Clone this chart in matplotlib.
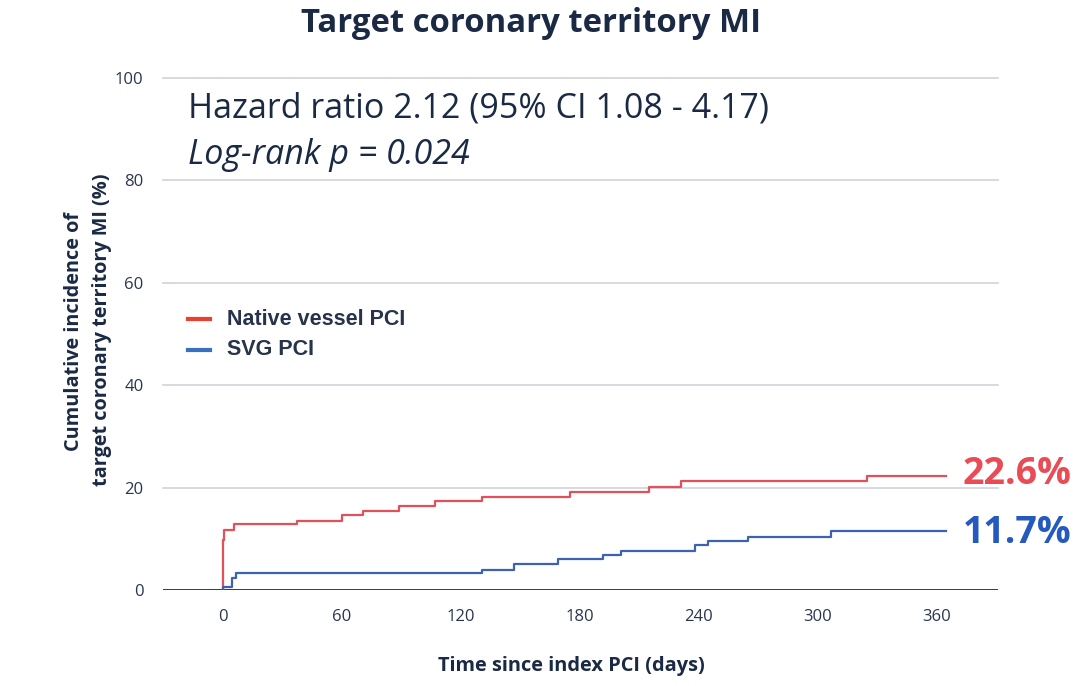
import matplotlib.pyplot as plt

# step data (days, cumulative %)
native_days = [0, 0, 1, 6, 37.5, 60, 71, 89, 107, 131, 175, 215, 231, 325, 365]
native_pct = [0, 9.8, 11.7, 12.8, 13.5, 14.6, 15.4, 16.5, 17.4, 18.2, 19.2, 20.2, 21.3, 22.2, 22.2]
svg_days = [0, 0, 5, 7, 131, 147, 169, 192, 201, 238, 245, 265, 307, 365]
svg_pct = [0, 0.6, 2.3, 3.3, 3.9, 5.1, 6.0, 6.9, 7.7, 8.7, 9.6, 10.4, 11.5, 11.5]
x_ticks = [0, 60, 120, 180, 240, 300, 360]
y_ticks = [0, 20, 40, 60, 80, 100]
end_labels = ['22.6%', '11.7%']

navy = '#1B2A44'
red = '#E2505C'
blue = '#3C62B0'

plt.rcParams['font.family'] = ['Open Sans', 'DejaVu Sans']

fig = plt.figure(figsize=(10.8, 6.86), dpi=100)
ax = fig.add_axes([163/1080, 1-590/686, (998-163)/1080, (590-78)/686])
ax.set_xlim(-30, 391)
ax.set_ylim(0, 100)

for y in y_ticks[1:]:
    ax.axhline(y, color='#D2D2DC', lw=1.2, zorder=0, clip_on=False)
ax.axhline(0, color=navy, lw=2, zorder=3)

ax.step(native_days, native_pct, where='post', color=red, lw=1.6, zorder=4)
ax.step(svg_days, svg_pct, where='post', color=blue, lw=1.6, zorder=4)

for s in ax.spines.values():
    s.set_visible(False)
ax.set_xticks(x_ticks)
ax.set_yticks(y_ticks)
ax.tick_params(length=0, labelsize=12, labelcolor='#2A3550', pad=14)

# right-side final values, a bit left of the axes edge
lab_x = 1.0 + (963 - 998) / 835
ax.text(lab_x, native_pct[-1] + 0.5, end_labels[0], transform=ax.get_yaxis_transform(),
        color='#E84C55', fontsize=27, fontweight='bold', va='center', ha='left', clip_on=False)
ax.text(lab_x, svg_pct[-1] - 0.3, end_labels[1], transform=ax.get_yaxis_transform(),
        color='#2559C0', fontsize=27, fontweight='bold', va='center', ha='left', clip_on=False)

ax.text(-17.5, 97.3, 'Hazard ratio 2.12 (95% CI 1.08 - 4.17)', fontsize=24.5, color=navy, va='top')
ax.text(-17.5, 88.3, 'Log-rank p = 0.024', fontsize=24.5, color=navy, va='top', style='italic')

# legend drawn as lines + text
ax.plot([-17.5, -6.5], [52.9, 52.9], color='#E8412F', lw=3)
ax.plot([-17.5, -6.5], [46.9, 46.9], color='#3A70C0', lw=3)
ax.text(2.5, 52.9, 'Native vessel PCI', family='Liberation Sans', fontweight='bold', fontsize=15.5, color='#26334A', va='center')
ax.text(2.5, 46.9, 'SVG PCI', family='Liberation Sans', fontweight='bold', fontsize=15.5, color='#26334A', va='center')

fig.text(531/1080, 1-24/686, 'Target coronary territory MI', fontsize=23.7, fontweight='bold',
         color=navy, ha='center', va='center')
fig.text(74/1080, 1-331/686, 'Cumulative incidence of', fontsize=14.3, fontweight='bold',
         color=navy, rotation=90, ha='center', va='center')
fig.text(102/1080, 1-330/686, 'target coronary territory MI (%)', fontsize=14.3, fontweight='bold',
         color=navy, rotation=90, ha='center', va='center')
fig.text(571/1080, 1-666/686, 'Time since index PCI (days)', fontsize=14.4, fontweight='bold',
         color=navy, ha='center', va='center')

fig.savefig('out.png', dpi=100)
